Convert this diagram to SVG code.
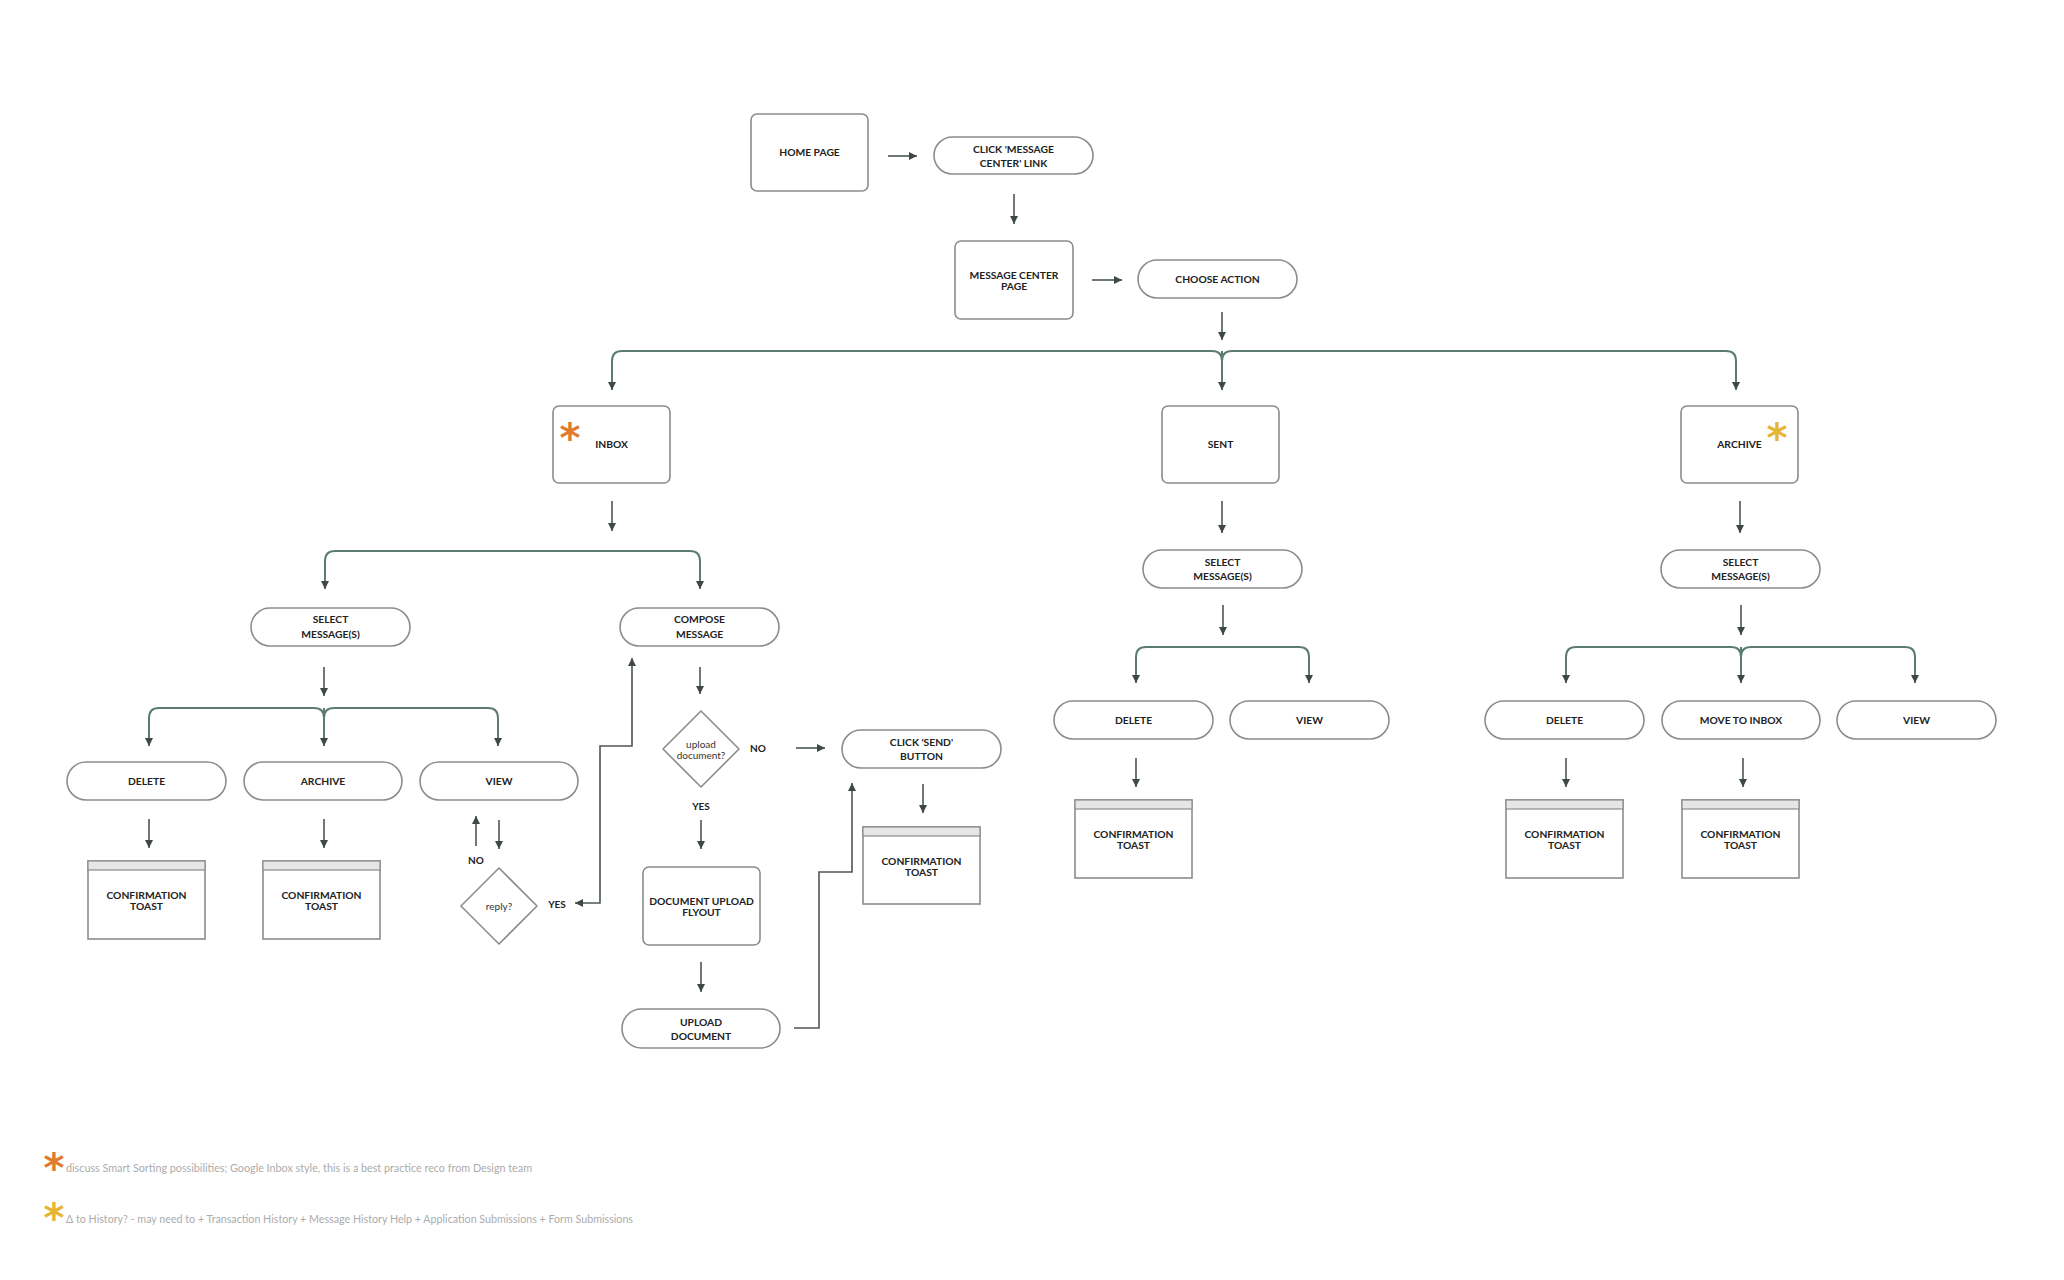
<svg xmlns="http://www.w3.org/2000/svg" width="2064" height="1280" viewBox="0 0 2064 1280">
<style>
.bg{fill:#ffffff}
.box{fill:#ffffff;stroke:#8c8c8c;stroke-width:1.6}
.hdr{fill:#e6e6e6;stroke:#8c8c8c;stroke-width:1.2}
.t{font-family:Lato,"Liberation Sans",sans-serif;font-size:10.3px;font-weight:700;fill:#222;text-anchor:middle}
.tn{font-family:Lato,"Liberation Sans",sans-serif;font-size:10px;font-weight:400;fill:#333;text-anchor:middle}
.lbl{font-family:Lato,"Liberation Sans",sans-serif;font-size:10px;font-weight:700;fill:#222;text-anchor:middle}
.c{fill:none;stroke:#4d5754;stroke-width:1.6;marker-end:url(#ah)}
.b{fill:none;stroke:#5c7b74;stroke-width:2;marker-end:url(#ah)}
.both{marker-start:url(#ah)}
.ast{font-family:"DejaVu Sans",sans-serif;font-weight:700;text-anchor:middle}
.foot{font-family:Lato,"Liberation Sans",sans-serif;font-size:10.5px;fill:#acacac}
</style>
<defs>
<marker id="ah" viewBox="0 0 10 10" refX="10" refY="5" markerWidth="8" markerHeight="8" markerUnits="userSpaceOnUse" orient="auto-start-reverse">
<path d="M0,0 L10,5 L0,10 z" fill="#3e4845"/>
</marker>
</defs>
<rect class="bg" x="0" y="0" width="2064" height="1280"/>

<g id="connectors">
<path class="c" d="M888,156 H917"/>
<path class="c" d="M1014,194 V224"/>
<path class="c" d="M1092,280 H1122"/>
<path class="c" d="M1222,312 V340"/>
<path class="b" d="M1222,361 Q1222,351 1212,351 H622 Q612,351 612,361 V390"/>
<path class="b" d="M1222,351 V390"/>
<path class="b" d="M1222,361 Q1222,351 1232,351 H1726 Q1736,351 1736,361 V390"/>
<path class="c" d="M612,501 V531"/>
<path class="b both" d="M325,589 V561 Q325,551 335,551 H690 Q700,551 700,561 V589"/>
<path class="c" d="M324,667 V696"/>
<path class="b" d="M324,718 Q324,708 314,708 H159 Q149,708 149,718 V746"/>
<path class="b" d="M324,708 V746"/>
<path class="b" d="M324,718 Q324,708 334,708 H488 Q498,708 498,718 V746"/>
<path class="c" d="M149,819 V848"/>
<path class="c" d="M324,819 V848"/>
<path class="c" d="M476,846 V816"/>
<path class="c" d="M499,820 V849"/>
<path class="c both" d="M575,903 H600 V746 H632 V658"/>
<path class="c" d="M700,667 V694"/>
<path class="c" d="M796,748 H825"/>
<path class="c" d="M701,820 V849"/>
<path class="c" d="M701,962 V992"/>
<path class="c" d="M794,1028 H819 V872 H852 V783"/>
<path class="c" d="M923,784 V813"/>
<path class="c" d="M1222,501 V533"/>
<path class="c" d="M1223,605 V635"/>
<path class="b both" d="M1136,683 V657 Q1136,647 1146,647 H1299 Q1309,647 1309,657 V683"/>
<path class="c" d="M1136,758 V787"/>
<path class="c" d="M1740,501 V533"/>
<path class="c" d="M1741,605 V635"/>
<path class="b" d="M1741,657 Q1741,647 1731,647 H1576 Q1566,647 1566,657 V683"/>
<path class="b" d="M1741,647 V683"/>
<path class="b" d="M1741,657 Q1741,647 1751,647 H1905 Q1915,647 1915,657 V683"/>
<path class="c" d="M1566,758 V787"/>
<path class="c" d="M1743,758 V787"/>
</g>

<g id="home"><rect class="box" x="751" y="114" width="117" height="77" rx="6"/><text class="t" x="809.5" y="156">HOME PAGE</text></g>
<g id="click-mc"><rect class="box" x="934" y="137" width="159" height="37" rx="18.5"/><text class="t" x="1013.5" y="152.5">CLICK 'MESSAGE</text><text class="t" x="1013.5" y="166.5">CENTER' LINK</text></g>
<g id="mc-page"><rect class="box" x="955" y="241" width="118" height="78" rx="6"/><text class="t" x="1014" y="278.5">MESSAGE CENTER</text><text class="t" x="1014" y="289.5">PAGE</text></g>
<g id="choose"><rect class="box" x="1138" y="260" width="159" height="38" rx="19"/><text class="t" x="1217.5" y="282.5">CHOOSE ACTION</text></g>

<g id="inbox"><rect class="box" x="553" y="406" width="117" height="77" rx="6"/><text class="t" x="611.5" y="447.5">INBOX</text><text class="ast" x="570" y="452" font-size="40" fill="#e07a2c">*</text></g>
<g id="sent"><rect class="box" x="1162" y="406" width="117" height="77" rx="6"/><text class="t" x="1220.5" y="447.5">SENT</text></g>
<g id="archive"><rect class="box" x="1681" y="406" width="117" height="77" rx="6"/><text class="t" x="1739.5" y="447.5">ARCHIVE</text><text class="ast" x="1777" y="452" font-size="40" fill="#e6b533">*</text></g>

<g id="in-select"><rect class="box" x="251" y="608" width="159" height="38" rx="19"/><text class="t" x="330.5" y="623">SELECT</text><text class="t" x="330.5" y="637.5">MESSAGE(S)</text></g>
<g id="compose"><rect class="box" x="620" y="608" width="159" height="38" rx="19"/><text class="t" x="699.5" y="623">COMPOSE</text><text class="t" x="699.5" y="637.5">MESSAGE</text></g>
<g id="in-delete"><rect class="box" x="67" y="762" width="159" height="38" rx="19"/><text class="t" x="146.5" y="784.5">DELETE</text></g>
<g id="in-archive"><rect class="box" x="244" y="762" width="158" height="38" rx="19"/><text class="t" x="323" y="784.5">ARCHIVE</text></g>
<g id="in-view"><rect class="box" x="420" y="762" width="158" height="38" rx="19"/><text class="t" x="499" y="784.5">VIEW</text></g>
<g id="in-toast1"><rect class="box" x="88" y="861" width="117" height="78"/><rect class="hdr" x="88" y="861" width="117" height="9"/><text class="t" x="146.5" y="899">CONFIRMATION</text><text class="t" x="146.5" y="910">TOAST</text></g>
<g id="in-toast2"><rect class="box" x="263" y="861" width="117" height="78"/><rect class="hdr" x="263" y="861" width="117" height="9"/><text class="t" x="321.5" y="899">CONFIRMATION</text><text class="t" x="321.5" y="910">TOAST</text></g>
<g id="reply"><path class="box" d="M499,868 L537,906 L499,944 L461,906 Z" stroke-linejoin="round"/><text class="tn" x="499" y="909.5">reply?</text></g>
<g id="labels-reply"><text class="lbl" x="476" y="863.5">NO</text><text class="lbl" x="557" y="907.5">YES</text></g>

<g id="upload-q"><path class="box" d="M701,711 L739,749 L701,787 L663,749 Z" stroke-linejoin="round"/><text class="tn" x="701" y="747.5">upload</text><text class="tn" x="701" y="758.5">document?</text></g>
<g id="labels-upload"><text class="lbl" x="758" y="751.5">NO</text><text class="lbl" x="701" y="809.5">YES</text></g>
<g id="click-send"><rect class="box" x="842" y="730" width="159" height="38" rx="19"/><text class="t" x="921.5" y="745.5">CLICK 'SEND'</text><text class="t" x="921.5" y="759.5">BUTTON</text></g>
<g id="send-toast"><rect class="box" x="863" y="827" width="117" height="77"/><rect class="hdr" x="863" y="827" width="117" height="9"/><text class="t" x="921.5" y="864.5">CONFIRMATION</text><text class="t" x="921.5" y="875.5">TOAST</text></g>
<g id="flyout"><rect class="box" x="643" y="867" width="117" height="78" rx="6"/><text class="t" x="701.5" y="904.5">DOCUMENT UPLOAD</text><text class="t" x="701.5" y="915.5">FLYOUT</text></g>
<g id="upload-doc"><rect class="box" x="622" y="1009" width="158" height="39" rx="19.5"/><text class="t" x="701" y="1025.5">UPLOAD</text><text class="t" x="701" y="1039.5">DOCUMENT</text></g>

<g id="sent-select"><rect class="box" x="1143" y="550" width="159" height="38" rx="19"/><text class="t" x="1222.5" y="565.5">SELECT</text><text class="t" x="1222.5" y="580">MESSAGE(S)</text></g>
<g id="sent-delete"><rect class="box" x="1054" y="701" width="159" height="38" rx="19"/><text class="t" x="1133.5" y="723.5">DELETE</text></g>
<g id="sent-view"><rect class="box" x="1230" y="701" width="159" height="38" rx="19"/><text class="t" x="1309.5" y="723.5">VIEW</text></g>
<g id="sent-toast"><rect class="box" x="1075" y="800" width="117" height="78"/><rect class="hdr" x="1075" y="800" width="117" height="9"/><text class="t" x="1133.5" y="837.5">CONFIRMATION</text><text class="t" x="1133.5" y="848.5">TOAST</text></g>

<g id="arch-select"><rect class="box" x="1661" y="550" width="159" height="38" rx="19"/><text class="t" x="1740.5" y="565.5">SELECT</text><text class="t" x="1740.5" y="580">MESSAGE(S)</text></g>
<g id="arch-delete"><rect class="box" x="1485" y="701" width="159" height="38" rx="19"/><text class="t" x="1564.5" y="723.5">DELETE</text></g>
<g id="arch-move"><rect class="box" x="1662" y="701" width="158" height="38" rx="19"/><text class="t" x="1741" y="723.5">MOVE TO INBOX</text></g>
<g id="arch-view"><rect class="box" x="1837" y="701" width="159" height="38" rx="19"/><text class="t" x="1916.5" y="723.5">VIEW</text></g>
<g id="arch-toast1"><rect class="box" x="1506" y="800" width="117" height="78"/><rect class="hdr" x="1506" y="800" width="117" height="9"/><text class="t" x="1564.5" y="837.5">CONFIRMATION</text><text class="t" x="1564.5" y="848.5">TOAST</text></g>
<g id="arch-toast2"><rect class="box" x="1682" y="800" width="117" height="78"/><rect class="hdr" x="1682" y="800" width="117" height="9"/><text class="t" x="1740.5" y="837.5">CONFIRMATION</text><text class="t" x="1740.5" y="848.5">TOAST</text></g>

<g id="footnotes">
<text class="ast" x="54" y="1182" font-size="40" fill="#e07a2c">*</text>
<text class="foot" x="66" y="1172" textLength="466" lengthAdjust="spacingAndGlyphs">discuss Smart Sorting possibilities; Google Inbox style, this is a best practice reco from Design team</text>
<text class="ast" x="54" y="1232" font-size="40" fill="#e6b533">*</text>
<text class="foot" x="66" y="1223" textLength="567" lengthAdjust="spacingAndGlyphs">Δ to History? - may need to + Transaction History + Message History Help + Application Submissions + Form Submissions</text>
</g>
</svg>
